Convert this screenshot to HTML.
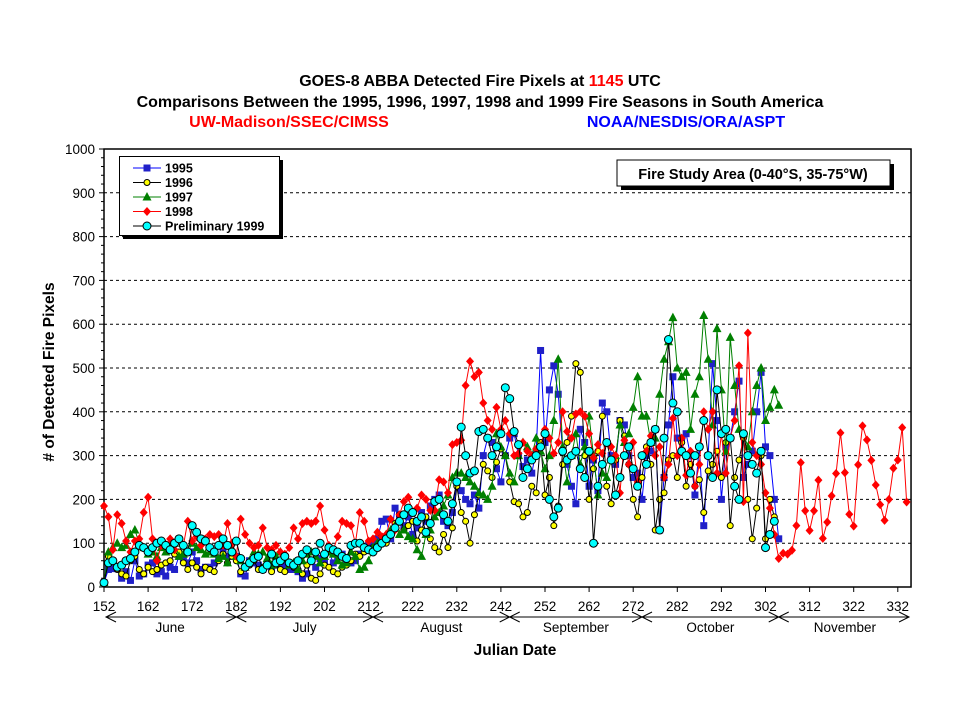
<!DOCTYPE html>
<html><head><meta charset="utf-8"><style>
body{margin:0;background:#fff;}
svg text{font-family:"Liberation Sans",Arial,sans-serif;}
</style></head><body>
<svg id="chart" width="959" height="719" viewBox="0 0 959 719" xmlns="http://www.w3.org/2000/svg">
<rect width="959" height="719" fill="#fff"/>
<g font-weight="bold" font-size="16" text-anchor="middle">
<text x="480" y="86">GOES-8 ABBA Detected Fire Pixels at <tspan fill="#ff0000">1145</tspan> UTC</text>
<text x="480" y="107">Comparisons Between the 1995, 1996, 1997, 1998 and 1999 Fire Seasons in South America</text>
<text x="289" y="127" fill="#ff0000">UW-Madison/SSEC/CIMSS</text>
<text x="686" y="127" fill="#0000ff">NOAA/NESDIS/ORA/ASPT</text>
</g>
<g id="grid"></g>
<g id="axes"></g>
<g id="series"></g>
<g id="months"></g>
<text x="0" y="0" transform="translate(54,372) rotate(-90)" text-anchor="middle" font-size="15.5" font-weight="bold"># of Detected Fire Pixels</text>
<text x="515" y="655" text-anchor="middle" font-size="15.5" font-weight="bold">Julian Date</text>
<g>
<rect x="621" y="164" width="273" height="26" fill="#000"/>
<rect x="617" y="160" width="273" height="26" fill="#fff" stroke="#000" stroke-width="1"/>
<text x="753" y="179" text-anchor="middle" font-size="14.5" font-weight="bold">Fire Study Area (0-40°S, 35-75°W)</text>
</g>
<g id="legend">
<rect x="123" y="160" width="160" height="79" fill="#000"/>
<rect x="119.5" y="156.5" width="160" height="79" fill="#fff" stroke="#000"/>
</g>
</svg>
<script>
var days0 = 152;
var y1995 = [10,40,42,42,20,35,15,60,25,30,50,55,30,35,25,45,40,70,60,55,80,60,40,45,45,55,65,80,70,75,70,30,25,60,55,50,40,55,45,60,55,50,40,40,35,20,30,60,45,65,60,80,55,70,75,60,55,60,75,90,95,100,110,150,155,110,180,165,140,160,120,135,170,150,185,200,210,150,140,170,240,220,200,190,210,180,300,340,330,270,240,300,340,350,300,275,290,260,310,540,330,450,505,440,310,280,230,190,360,330,230,290,220,420,400,300,280,380,370,300,250,260,200,300,310,360,130,250,370,480,340,310,350,300,210,320,140,300,510,380,200,320,340,400,470,250,280,310,400,490,320,300,200,110];
var y1996 = [10,70,60,40,30,25,60,70,40,30,45,35,40,50,55,60,75,80,55,40,55,45,30,45,40,35,60,75,55,70,60,35,45,50,60,40,45,55,35,50,40,35,55,45,60,30,50,20,15,30,50,45,35,30,45,50,60,75,70,80,85,90,95,115,100,120,145,165,130,140,150,105,130,160,110,90,80,120,90,135,230,170,150,100,165,210,280,265,250,285,315,300,240,195,190,160,170,230,215,330,210,250,140,185,280,330,390,510,490,300,200,270,310,390,230,190,290,380,345,280,200,160,250,320,280,130,200,215,290,300,250,330,230,280,230,245,170,265,280,310,250,330,140,250,290,340,200,110,180,300,110,200,160];
var y1997 = [10,80,90,100,90,95,120,130,100,90,75,80,70,90,80,95,100,70,75,80,100,90,85,75,80,75,65,70,55,85,70,60,45,60,80,75,80,65,50,70,80,65,50,55,40,60,75,80,70,55,70,80,75,60,50,55,80,70,40,45,60,90,100,110,120,130,140,120,130,115,110,85,70,120,130,160,170,185,210,250,260,260,250,240,230,215,210,200,230,350,320,300,260,240,300,330,320,300,340,310,270,300,380,520,320,240,300,350,280,320,390,300,210,260,250,290,300,370,330,350,410,480,390,390,330,340,440,520,560,615,500,480,490,360,440,480,620,520,370,590,450,310,570,460,360,350,320,400,460,500,380,410,450,415];
var y1998 = [185,160,85,165,145,105,80,105,110,170,205,110,60,95,97,110,85,110,95,150,105,115,95,110,120,115,120,95,145,100,70,155,120,100,90,95,135,90,85,95,80,75,90,135,110,145,150,145,150,185,130,95,85,115,150,145,140,100,170,150,105,110,125,115,120,155,130,165,195,205,170,180,210,200,175,175,245,240,215,325,330,335,460,515,480,490,420,380,360,410,360,380,350,300,305,330,310,300,315,320,360,340,305,330,400,355,340,395,400,390,350,295,325,305,330,320,300,215,335,280,330,240,300,310,345,300,320,250,280,385,300,340,255,310,230,280,400,360,400,260,350,260,340,380,505,195,580,330,300,280,215,180,120,65,77,75,84,140,284,174,129,174,244,111,148,208,259,352,261,166,139,279,368,336,289,233,188,152,200,271,290,364,194];
var y1999 = [10,55,60,45,50,60,65,80,95,90,80,90,100,105,95,85,100,110,95,80,140,125,110,105,90,80,95,110,95,80,105,65,45,55,65,70,40,50,75,55,60,70,55,50,60,75,85,60,80,100,75,90,85,80,70,65,95,100,100,90,85,80,90,100,110,120,135,150,165,180,170,150,160,125,145,195,200,165,150,190,240,365,300,260,265,355,360,340,300,320,350,455,430,355,325,250,270,290,300,320,350,200,160,180,310,290,300,310,270,250,310,100,230,280,330,290,210,250,300,320,270,230,300,280,330,360,130,340,565,420,400,310,300,260,300,320,380,300,250,450,350,360,340,230,200,350,300,280,260,310,90,120,150];
var yTicks = [0,100,200,300,400,500,600,700,800,900,1000];
var xTicks = [152,162,172,182,192,202,212,222,232,242,252,262,272,282,292,302,312,322,332];
var monthNames = ["June","July","August","September","October","November"];
var monthStarts = [152,182,213,244,274,305,335];
var legendLabels = ["1995","1996","1997","1998","Preliminary 1999"];

var NS="http://www.w3.org/2000/svg";
var X0=104, PXD=4.41, Y0=587, PXV=0.438;
function xs(d){return X0+(d-152)*PXD;}
function ys(v){return Y0-v*PXV;}
function mk(t,a,p){var e=document.createElementNS(NS,t);for(var k in a)e.setAttribute(k,a[k]);p.appendChild(e);return e;}
var grid=document.getElementById('grid'), axes=document.getElementById('axes'), ser=document.getElementById('series'), mon=document.getElementById('months'), leg=document.getElementById('legend');
var XR=xs(335);
yTicks.forEach(function(v){
  if(v>0){var g=mk('line',{x1:X0,x2:XR,y1:ys(v),y2:ys(v),stroke:'#000','stroke-dasharray':'3,3','stroke-width':1},grid);
  
  }
  var t=mk('text',{x:X0-9,y:ys(v)+5,'text-anchor':'end','font-size':13.5},axes);t.textContent=v;
  
  
  mk('line',{x1:X0-5,x2:X0,y1:ys(v),y2:ys(v),stroke:'#000'},axes);
  if(v<1000) for(var m=1;m<5;m++) mk('line',{x1:X0-3,x2:X0,y1:ys(v+m*20),y2:ys(v+m*20),stroke:'#000'},axes);
});
mk('rect',{x:X0,y:ys(1000),width:XR-X0,height:Y0-ys(1000),fill:'none',stroke:'#000','stroke-width':1.5},axes);
xTicks.forEach(function(d){
  mk('line',{x1:xs(d),x2:xs(d),y1:Y0,y2:Y0+5,stroke:'#000'},axes);
  var t=mk('text',{x:xs(d),y:611,'text-anchor':'middle','font-size':13.5},axes);t.textContent=d;
  
  
});
var AY=617;
mk('line',{x1:xs(152)+2,x2:XR-2,y1:AY,y2:AY,stroke:'#000'},mon);
monthStarts.forEach(function(d,i){
  var x=xs(d)+(i==0?2:(i==monthStarts.length-1?-2:0));
  if(i>0) mk('polyline',{points:(x-10)+','+(AY-5)+' '+x+','+AY+' '+(x-10)+','+(AY+5),fill:'none',stroke:'#000'},mon);
  if(i<monthStarts.length-1) mk('polyline',{points:(x+10)+','+(AY-5)+' '+x+','+AY+' '+(x+10)+','+(AY+5),fill:'none',stroke:'#000'},mon);
  if(i<monthNames.length){var t=mk('text',{x:(xs(d)+xs(monthStarts[i+1]))/2,y:632,'text-anchor':'middle','font-size':13.5},mon);t.textContent=monthNames[i];
  
  }
});
function marker(type,x,y,p){
  if(type==0) return mk('rect',{x:x-3.5,y:y-3.5,width:7,height:7,fill:'#2020c8'},p);
  if(type==1) return mk('circle',{cx:x,cy:y,r:3,fill:'#ffff00',stroke:'#000','stroke-width':1},p);
  if(type==2) return mk('polygon',{points:x+','+(y-5)+' '+(x+4.5)+','+(y+3.5)+' '+(x-4.5)+','+(y+3.5),fill:'#008000'},p);
  if(type==3) return mk('polygon',{points:x+','+(y-4.5)+' '+(x+4)+','+y+' '+x+','+(y+4.5)+' '+(x-4)+','+y,fill:'#ff0000'},p);
  return mk('circle',{cx:x,cy:y,r:4,fill:'#00ffff',stroke:'#000','stroke-width':1},p);
}
var all=[y1995,y1996,y1997,y1998,y1999];
var lineCol=['#0000ff','#000','#008000','#ff0000','#000'];
var names=['series-1995','series-1996','series-1997','series-1998','series-1999'];
all.forEach(function(arr,si){
  var g=mk('g',{},ser);
  
  
  mk('polyline',{points:arr.map(function(v,i){return xs(days0+i)+','+ys(v);}).join(' '),fill:'none',stroke:lineCol[si],'stroke-width':1},g);
  arr.forEach(function(v,i){var m=marker(si,xs(days0+i),ys(v),g);
    
    });
});
legendLabels.forEach(function(l,i){
  var y=168+i*14.5;
  var g=mk('g',{},leg);
  
  
  mk('line',{x1:133,x2:161,y1:y,y2:y,stroke:lineCol[i]},g);
  marker(i,147,y,g);
  var t=mk('text',{x:165,y:y+4.5,'font-size':12.5,'font-weight':'bold'},g);t.textContent=l;
});
</script>
</body></html>
